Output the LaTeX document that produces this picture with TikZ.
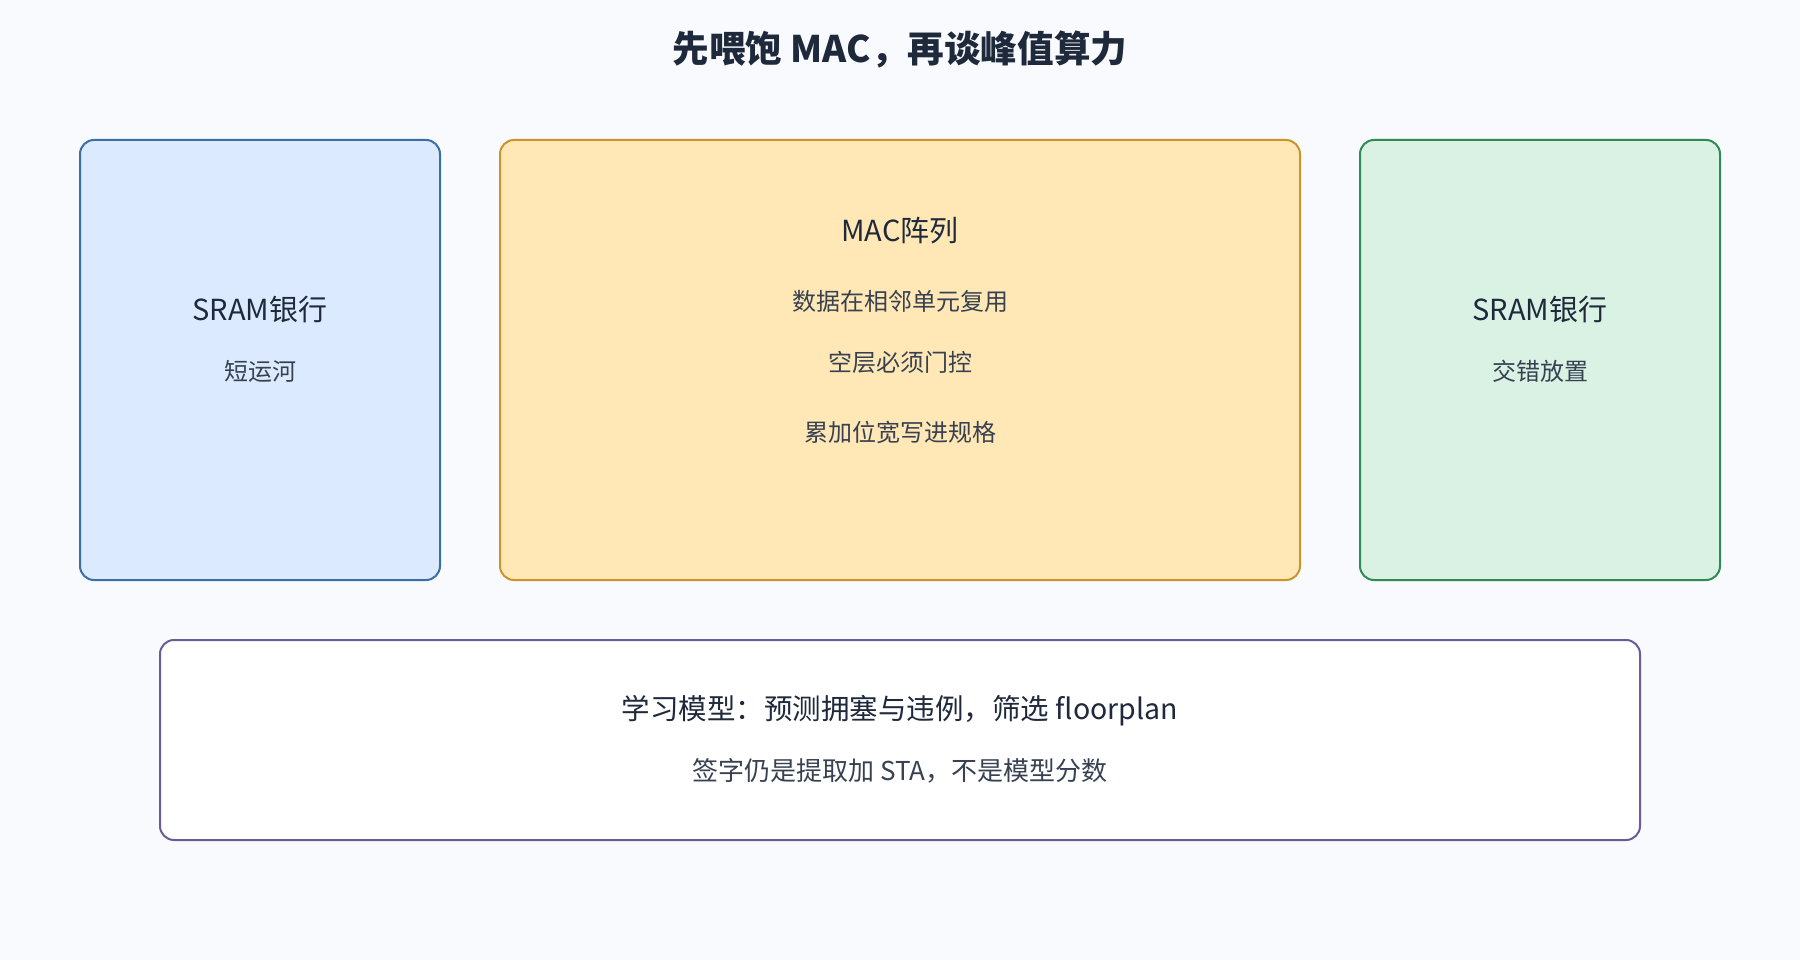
\documentclass[tikz,border=0pt]{standalone}
\usepackage{fontspec}
\setmainfont{Noto Sans CJK SC}
\usetikzlibrary{positioning}

\definecolor{pagebg}{HTML}{F8FAFD}
\definecolor{headtext}{HTML}{1E293B}
\definecolor{subtext}{HTML}{374151}
\definecolor{sramfill}{HTML}{DBEAFE}
\definecolor{sramline}{HTML}{3B6EA5}
\definecolor{macfill}{HTML}{FFE8B6}
\definecolor{macline}{HTML}{C9952B}
\definecolor{greenfill}{HTML}{D9F2E3}
\definecolor{greenline}{HTML}{2E8B57}
\definecolor{modelline}{HTML}{6A5C9A}

\begin{document}
\begin{tikzpicture}[x=1pt, y=-1pt,
    panel/.style={draw, line width=2pt, rounded corners=14pt, inner sep=0pt},
    sidepanel/.style={panel, minimum width=360pt, minimum height=440pt},
    headnode/.style={text=headtext, inner sep=0pt, font=\fontsize{29}{34}\selectfont},
    subnode/.style={text=subtext, inner sep=0pt, font=\fontsize{24}{28}\selectfont}]
        \fill[pagebg] (0,0) rectangle (1800,960);
        \useasboundingbox (0,0) rectangle (1800,960);

        % title
        \node[text=headtext, inner sep=0pt, font=\bfseries\fontsize{36.6}{42}\selectfont] (title) at (900,50) {先喂饱 MAC，再谈峰值算力};

        % three blocks
        \node[sidepanel, fill=sramfill, draw=sramline] (leftbank) at (260,360) {};
        \node[panel, fill=macfill, draw=macline, minimum width=800pt, minimum height=440pt] (macarray) at (900,360) {};
        \node[sidepanel, fill=greenfill, draw=greenline] (rightbank) at (1540,360) {};

        \node[headnode] (leftname) at (260,310) {SRAM银行};
        \node[subnode] (leftnote) at (260,371) {短运河};

        \node[headnode] (macname) at (900,231) {MAC阵列};
        \node[subnode] (macnote1) at (900,301) {数据在相邻单元复用};
        \node[subnode] (macnote2) at (900,362) {空层必须门控};
        \node[subnode] (macnote3) at (900,432) {累加位宽写进规格};

        \node[headnode] (rightname) at (1540,310) {SRAM银行};
        \node[subnode] (rightnote) at (1540,371) {交错放置};

        % model box
        \node[panel, fill=white, draw=modelline, minimum width=1480pt, minimum height=200pt] (model) at (900,740) {};
        \node[headnode, font=\fontsize{28.5}{33}\selectfont] (modelname) at (900,711) {学习模型：预测拥塞与违例，筛选 floorplan};
        \node[subnode, font=\fontsize{26}{30}\selectfont] (modelnote) at (900,771) {签字仍是提取加 STA，不是模型分数};
    \end{tikzpicture}
\end{document}
